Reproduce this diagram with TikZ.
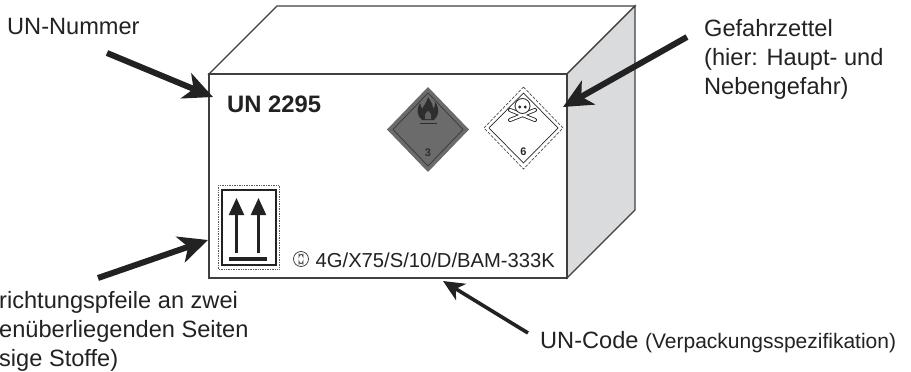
\documentclass[tikz,border=0pt]{standalone}
\usepackage{fontspec}
\setmainfont{Liberation Sans}
\usetikzlibrary{positioning,arrows.meta,calc}
\definecolor{sidegrey}{HTML}{DADBDD}
\definecolor{inkdark}{HTML}{222222}

\begin{document}
\begin{tikzpicture}[x=1pt, y=-1pt, >=Stealth,
  label/.style={font=\fontsize{23.6}{29}\selectfont, align=left, anchor=north west, inner sep=0pt, text=inkdark},
  pointer/.style={-{Stealth[length=29pt,width=27pt,inset=8pt]}, line width=6pt, inkdark},
  thinpointer/.style={-{Stealth[length=21pt,width=19pt,inset=6pt]}, line width=3.6pt, inkdark},
  face/.style={draw=black!75, line width=1.3pt, line join=miter}]
  \useasboundingbox (0,0) rectangle (911,372);
  % box
  \draw[face, fill=white] (209,74) -- (277,6) -- (635,6) -- (567,74) -- cycle;
  \draw[face, fill=sidegrey] (567,74) -- (635,6) -- (635,210) -- (567,278) -- cycle;
  \draw[face, fill=white] (209,74) rectangle (567,278);
  % labels
  \node[label] (unnum) at (7,18) {UN-Nummer};
  \node[label] (gefahr) at (704,19) {Gefahrzettel\\(hier: Haupt- und\\Nebengefahr)};
  \node[label] (pfeile) at (-1,291) {richtungspfeile an zwei\\enüberliegenden Seiten\\sige Stoffe)};
  \node[label] (code) at (540,331) {UN-Code {\fontsize{21}{24}\selectfont (Verpackungsspezifikation)}};
  \node[label, font=\fontsize{23.8}{28}\selectfont\bfseries] (unbig) at (227,96) {UN 2295};
  \node[label, font=\fontsize{20.2}{24}\selectfont] (spec) at (315.5,252.5) {4G/X75/S/10/D/BAM-333K};
  % class 3 label
  \fill[black!58] (428,87) -- (469,129.5) -- (428,172) -- (387,129.5) -- cycle;
  \draw[black!78, line width=.7pt] (428,93) -- (463,129.5) -- (428,166) -- (393,129.5) -- cycle;
  \fill[black!82] (428,97) .. controls (431,102) and (433,104) .. (433,109) .. controls (435,107) and (435,105) .. (435,102)
    .. controls (440,108) and (439,116) .. (434,120) -- (422,120) .. controls (417,116) and (416,109) .. (420,103)
    .. controls (421,105) and (421,107) .. (422,109) .. controls (424,105) and (427,102) .. (428,97) -- cycle;
  \fill[black!62] (428,111) .. controls (431,113) and (432,116) .. (431,119) -- (425,119) .. controls (424,116) and (425,113) .. (428,111) -- cycle;
  \draw[black!82, line width=1.6pt] (420,123.5) -- (437,123.5);
  \node[font=\fontsize{11}{12}\selectfont\bfseries, text=black!82, inner sep=0pt] (drei) at (428,153) {3};
  % class 6 label
  \draw[black!70, line width=.7pt, dash pattern=on 3pt off 1.5pt] (523.5,87) -- (563,128) -- (523.5,169) -- (484,128) -- cycle;
  \draw[black!85, line width=.7pt] (523.5,93) -- (558,128) -- (523.5,163) -- (489,128) -- cycle;
  \draw[black!85, line width=4pt, line cap=round] (510,110) -- (535,120) (535,110) -- (510,120);
  \draw[white, line width=2.4pt, line cap=round] (510,110) -- (535,120) (535,110) -- (510,120);
  \draw[black!85, fill=white, line width=.8pt] (522.5,106) circle (7.5);
  \fill[black!85] (519.8,107) circle (1.6) (525.2,107) circle (1.6);
  \node[font=\fontsize{11}{12}\selectfont\bfseries, text=black!85, inner sep=0pt] (sechs) at (523.5,152) {6};
  % orientation label
  \draw[black!65, densely dotted, line width=.7pt] (218,185) rectangle (279,269);
  \draw[inkdark, line width=2pt] (222,190) rectangle (276,265);
  \foreach \x in {236.5,258.5}
    \draw[-{Stealth[length=17pt,width=15pt,inset=0pt]}, line width=2.2pt, inkdark] (\x,253) -- (\x,198);
  \draw[inkdark, line width=3.5pt] (229,259) -- (267,259);
  % UN symbol
  \draw[black!80, line width=.7pt] (301,259) circle (7.5);
  \draw[black!80, line width=.8pt] (299,253.5) -- (299,256.5) arc (180:360:2) -- (303,253.5) (299,264.5) -- (299,261.5) arc (180:0:2) -- (303,264.5);
  % pointers
  \coordinate (unnumtip) at (213,97);
  \coordinate (gefahrtip) at (563,107);
  \coordinate (pfeiletip) at (208,240);
  \coordinate (codetip) at (443,281);
  \coordinate (unnumtail) at (107,53);
  \coordinate (gefahrtail) at (687,37);
  \coordinate (pfeiletail) at (98,278);
  \coordinate (codetail) at (528,333);
  \draw[pointer] (unnumtail) -- (unnumtip);
  \draw[pointer] (gefahrtail) -- (gefahrtip);
  \draw[pointer] (pfeiletail) -- (pfeiletip);
  \draw[thinpointer] (codetail) -- (codetip);
\end{tikzpicture}
\end{document}
